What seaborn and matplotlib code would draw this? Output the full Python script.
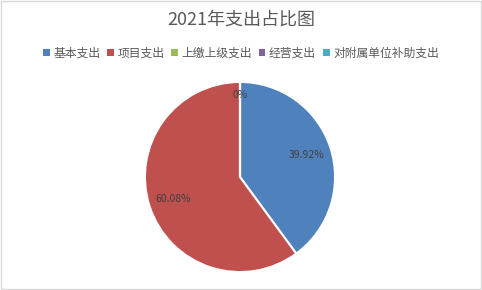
import matplotlib
matplotlib.use("Agg")
import matplotlib.pyplot as plt
import seaborn as sns
import numpy as np
from matplotlib.patches import Patch, Rectangle

categories = ["基本支出", "项目支出", "上缴上级支出", "经营支出", "对附属单位补助支出"]
values = [39.92, 60.08, 0, 0, 0]
labels = ["39.92%", "60.08%", "0%", "0%", "0%"]
colors = ["#4F81BD", "#C0504D", "#9BBB59", "#8064A2", "#4BACC6"]

sns.set_style("white")
plt.rcParams['font.family'] = ['Noto Sans CJK SC', 'DejaVu Sans']

fig = plt.figure(figsize=(4.82, 2.90), dpi=100)
fig.patches.append(Rectangle((0.002, 0.003), 0.996, 0.994, transform=fig.transFigure,
                             fill=False, edgecolor="#D9D9D9", linewidth=1.0))

# pie centered at (240,177) px, radius ~95 px
ax = fig.add_axes([(240 - 96) / 482, 1 - (177 + 96) / 290, 192 / 482, 192 / 290])
wedges, _ = ax.pie(values, colors=colors, startangle=90, counterclock=False,
                   wedgeprops=dict(edgecolor="white", linewidth=1.5))
ax.set_xlim(-1.01, 1.01)
ax.set_ylim(-1.01, 1.01)
ax.set_aspect("equal")

shown_zero = False
for w, lab, v in zip(wedges, labels, values):
    ang = np.deg2rad((w.theta1 + w.theta2) / 2)
    if v == 0:
        if shown_zero:
            continue
        shown_zero = True
        r = 0.86
    else:
        r = 0.74
    ax.text(r * np.cos(ang), r * np.sin(ang), lab, ha="center", va="center",
            fontsize=7.5, color="#404040")

fig.text(0.5, 1 - 20 / 290, "2021年支出占比图", ha="center", va="center",
         fontsize=13, color="#595959")

handles = [Patch(facecolor=c, edgecolor="none") for c in colors]
fig.legend(handles, categories, loc="center", bbox_to_anchor=(0.5, 1 - 53 / 290),
           ncol=5, frameon=False, fontsize=8.5, labelcolor="#595959",
           handlelength=0.55, handleheight=0.55, handletextpad=0.3,
           columnspacing=0.6, borderaxespad=0)

fig.savefig("out.png", dpi=100)
